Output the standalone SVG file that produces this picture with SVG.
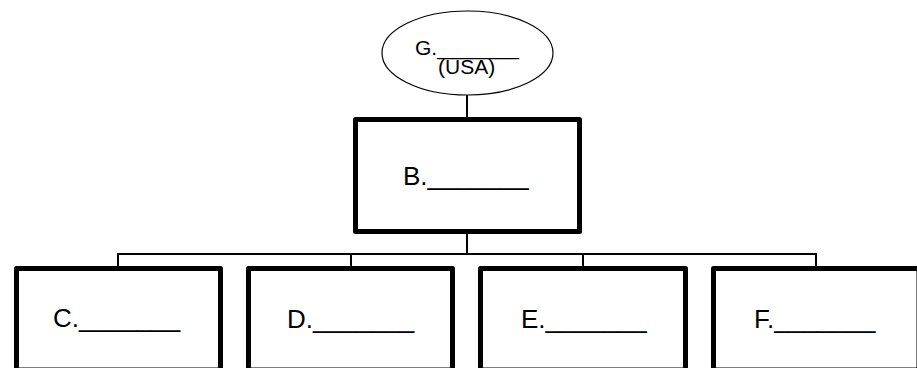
<svg xmlns="http://www.w3.org/2000/svg" width="917" height="368" viewBox="0 0 917 368">
<style>
.box{fill:#fff;stroke:#000;stroke-width:5;stroke-linejoin:round}
.ell{fill:#fff;stroke:#000;stroke-width:1.2}
.con{fill:none;stroke:#000;stroke-width:2}
.t{font-family:"Liberation Sans",Arial,sans-serif;fill:#000}
</style>
<rect width="917" height="368" fill="#fff"/>
<g id="connectors">
<line class="con" x1="467" y1="95" x2="467" y2="118"/>
<line class="con" x1="467" y1="232" x2="467" y2="254"/>
<polyline class="con" points="118,267 118,254 816,254 816,267"/>
<line class="con" x1="351" y1="254" x2="351" y2="267"/>
<line class="con" x1="583" y1="254" x2="583" y2="267"/>
</g>
<g id="nodeG">
<ellipse class="ell" cx="467.5" cy="53" rx="85.5" ry="42"/>
<text class="t" x="415" y="55" font-size="21">G._______</text>
<text class="t" x="438" y="74" font-size="21">(USA)</text>
</g>
<g id="nodeB">
<rect class="box" x="355.5" y="119.5" width="224" height="112"/>
<text class="t" x="403" y="185" font-size="26">B._______</text>
</g>
<g id="nodeC">
<rect class="box" x="16.5" y="268.5" width="204" height="101.5"/>
<text class="t" x="53" y="327" font-size="26">C._______</text>
</g>
<g id="nodeD">
<rect class="box" x="248.5" y="268.5" width="204" height="101.5"/>
<text class="t" x="287" y="328" font-size="26">D._______</text>
</g>
<g id="nodeE">
<rect class="box" x="480.5" y="268.5" width="205" height="101.5"/>
<text class="t" x="521" y="328" font-size="26">E._______</text>
</g>
<g id="nodeF">
<rect class="box" x="713.5" y="268.5" width="205.5" height="101.5"/>
<text class="t" x="754" y="328" font-size="26">F._______</text>
</g>
</svg>
